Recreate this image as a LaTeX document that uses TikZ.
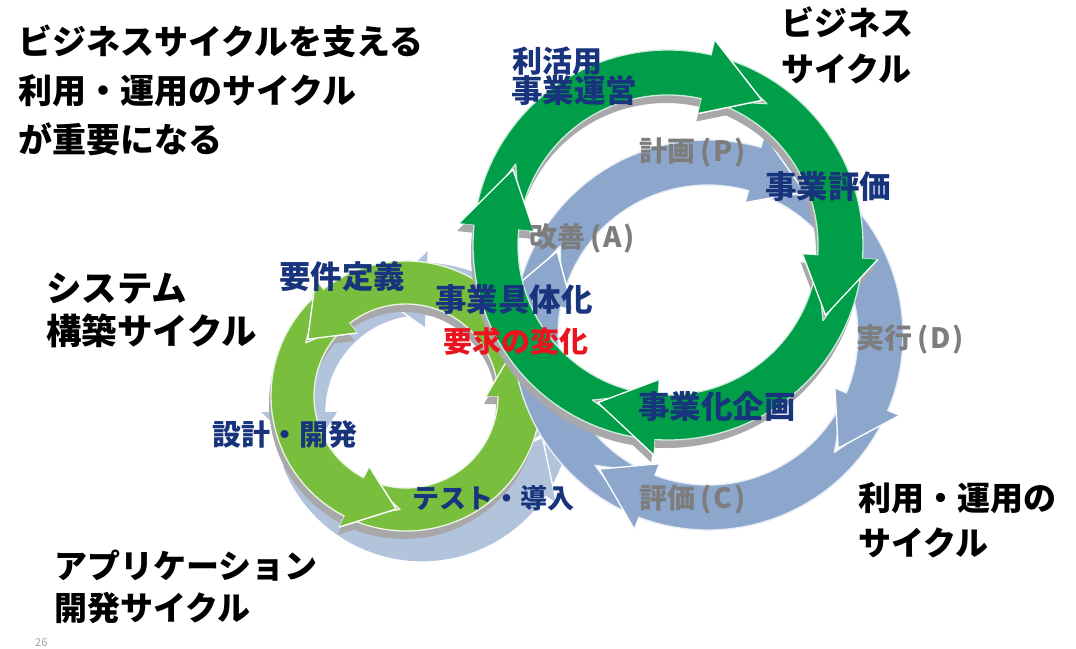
\documentclass[tikz,border=0pt]{standalone}
\usepackage{fontspec}
\setmainfont{Noto Sans CJK JP}
\definecolor{dkgreen}{RGB}{0,158,72}
\definecolor{ltgreen}{RGB}{122,190,62}
\definecolor{pdcablue}{RGB}{140,166,204}
\definecolor{appblue}{RGB}{178,195,220}
\definecolor{shadowgrey}{RGB}{168,168,170}
\definecolor{navy}{RGB}{24,52,125}
\definecolor{reqred}{RGB}{235,20,30}
\definecolor{greytext}{RGB}{125,125,125}
\newcommand\RAset[5]{%
  \def\RAcx{#1}\def\RAcy{#2}%
  \pgfmathsetmacro\RAri{#3}\pgfmathsetmacro\RAro{#4}%
  \pgfmathsetmacro\RAm{(#3+#4)/2}%
  \pgfmathsetmacro\RAoo{#4+#5}\pgfmathsetmacro\RAii{#3-#5}}
\newcommand\RAbody[4][]{%
  \pgfmathsetmacro\RAn{#2+#4-#3}%
  \path[#1] ([shift={(\RAcx,\RAcy)}]#2:\RAro) arc[start angle=#2,end angle=#3,radius=\RAro]
    -- ([shift={(\RAcx,\RAcy)}]#3:\RAoo) -- ([shift={(\RAcx,\RAcy)}]#4:\RAm)
    -- ([shift={(\RAcx,\RAcy)}]#3:\RAii) -- ([shift={(\RAcx,\RAcy)}]#3:\RAri)
    arc[start angle=#3,end angle=#2,radius=\RAri]
    -- ([shift={(\RAcx,\RAcy)}]\RAn:\RAm) -- cycle;}
\newcommand\RAhead[3][]{%
  \path[#1] ([shift={(\RAcx,\RAcy)}]#2:\RAoo) -- ([shift={(\RAcx,\RAcy)}]#3:\RAm)
    -- ([shift={(\RAcx,\RAcy)}]#2:\RAii) -- cycle;
  \draw[white,line width=1.3pt,line join=round] ([shift={(\RAcx,\RAcy)}]#2:\RAoo)
    -- ([shift={(\RAcx,\RAcy)}]#3:\RAm) -- ([shift={(\RAcx,\RAcy)}]#2:\RAii);}
\begin{document}
\begin{tikzpicture}[x=1pt,y=-1pt,
  title/.style={font=\fontsize{34}{40}\selectfont\bfseries,anchor=base west,inner sep=0pt,text=black},
  lbl/.style={font=\fontsize{31.5}{36}\selectfont\bfseries,anchor=base west,inner sep=0pt,text=navy},
  pdca/.style={font=\fontsize{28}{32}\selectfont\bfseries,anchor=base west,inner sep=0pt,text=greytext},
  shad/.style={fill=shadowgrey,shift={(-2,8)}},
  appseg/.style={fill=appblue,draw=white,line width=1.3pt,line join=round},
  ltseg/.style={fill=ltgreen,draw=white!85!ltgreen,line width=1.3pt,line join=round},
  pdseg/.style={fill=pdcablue,draw=white!80!pdcablue,line width=1.3pt,line join=round},
  dkseg/.style={fill=dkgreen,draw=white!80!dkgreen,line width=1.3pt,line join=round}]
\fill[white] (0,0) rectangle (1076,648);
\useasboundingbox (0,0) rectangle (1076,648);

% ---------- application development cycle (light blue) ----------
\RAset{422}{412}{96}{150}{12}
\RAbody[appseg]{160}{34}{12}
\RAbody[appseg]{32}{-88}{-110}
\RAbody[appseg]{-90}{-180}{-202}
\RAhead[fill=appblue]{34}{12}
\RAhead[fill=appblue]{-88}{-110}
\RAhead[fill=appblue]{-180}{-202}

% ---------- system construction cycle (light green) ----------
\RAset{406}{396}{92}{135}{12}
\RAbody[shad]{115}{0}{-22}
\RAbody[shad]{-2}{-128}{-150}
\RAbody[shad]{-130}{-243}{-265}
\RAbody[ltseg]{115}{0}{-22}
\RAbody[ltseg]{-2}{-128}{-150}
\RAbody[ltseg]{-130}{-243}{-265}
\RAhead[fill=ltgreen]{0}{-22}
\RAhead[fill=ltgreen]{-128}{-150}
\RAhead[fill=ltgreen]{-243}{-265}

% ---------- usage / operation cycle (PDCA, blue) ----------
\RAset{708}{335}{150}{195}{12}
\RAbody[pdseg]{193}{286}{304}
\RAbody[pdseg]{288}{383}{401}
\RAbody[pdseg]{25}{111}{129}
\RAbody[pdseg]{113}{191}{209}
\RAhead[fill=pdcablue]{286}{304}
\RAhead[fill=pdcablue]{383}{401}
\RAhead[fill=pdcablue]{111}{129}
\RAhead[fill=pdcablue]{191}{209}

% ---------- business cycle (dark green) ----------
\RAset{668}{245}{150}{195}{15}
\RAbody[shad]{285}{364}{384}
\RAbody[shad]{6}{94}{114}
\RAbody[shad]{96}{186}{206}
\RAbody[shad]{188}{283}{303}
\RAbody[dkseg]{285}{364}{384}
\RAbody[dkseg]{6}{94}{114}
\RAbody[dkseg]{96}{186}{206}
\RAbody[dkseg]{188}{283}{303}
\RAhead[fill=dkgreen]{364}{384}
\RAhead[fill=dkgreen]{94}{114}
\RAhead[fill=dkgreen]{186}{206}
\RAhead[fill=dkgreen]{283}{303}

% ---------- black headings ----------
\node[title] (t1) at (18,54) {ビジネスサイクルを支える};
\node[title] (t2) at (18,103) {利用・運用のサイクル};
\node[title] (t3) at (18,152) {が重要になる};
\node[title,font=\fontsize{33}{40}\selectfont\bfseries] (b1) at (781,35) {ビジネス};
\node[title,font=\fontsize{33}{40}\selectfont\bfseries] (b2) at (781,81) {サイクル};
\node[title,font=\fontsize{35.5}{40}\selectfont\bfseries] (s1) at (46,301) {システム};
\node[title,font=\fontsize{35.5}{40}\selectfont\bfseries] (s2) at (46,344) {構築サイクル};
\node[title,font=\fontsize{33}{40}\selectfont\bfseries] (a1) at (54,578) {アプリケーション};
\node[title,font=\fontsize{33}{40}\selectfont\bfseries] (a2) at (54,620) {開発サイクル};
\node[title,font=\fontsize{33}{40}\selectfont\bfseries] (u1) at (858,510) {利用・運用の};
\node[title,font=\fontsize{33}{40}\selectfont\bfseries] (u2) at (858,555) {サイクル};

% ---------- navy labels ----------
\node[lbl,font=\fontsize{30}{36}\selectfont\bfseries] (l1) at (512,72) {利活用};
\node[lbl] (l2) at (511,102) {事業運営};
\node[lbl] (l3) at (765,198) {事業評価};
\node[lbl] (l4) at (435,311) {事業具体化};
\node[lbl,text=reqred,font=\fontsize{29}{34}\selectfont\bfseries] (l5) at (443,352) {要求の変化};
\node[lbl] (l6) at (638,418) {事業化企画};
\node[lbl] (l7) at (279,288) {要件定義};
\node[lbl,font=\fontsize{29}{34}\selectfont\bfseries] (l8) at (212,445) {設計・開発};
\node[lbl,font=\fontsize{27}{34}\selectfont\bfseries] (l9) at (412,508) {テスト・導入};

% ---------- PDCA labels ----------
\node[pdca] (p1) at (639,161) {計画\kern5pt(\kern2pt P\kern2pt)};
\node[pdca] (p2) at (529,247) {改善\kern5pt(\kern2pt A\kern2pt)};
\node[pdca] (p3) at (856,348) {実行\kern5pt(\kern2pt D\kern2pt)};
\node[pdca] (p4) at (639,508) {評価\kern5pt(\kern2pt C\kern2pt)};

\node[anchor=base west,inner sep=0pt,text=greytext!70,font=\fontsize{11}{12}\selectfont] (pg) at (35,646) {26};
\end{tikzpicture}
\end{document}
